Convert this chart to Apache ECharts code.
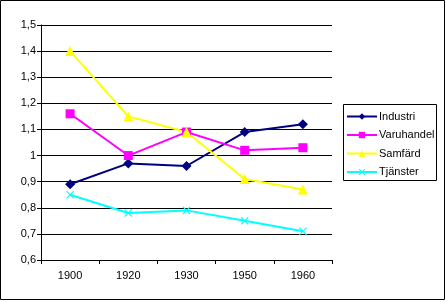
<!DOCTYPE html>
<html><head><meta charset="utf-8">
<script src="https://cdn.jsdelivr.net/npm/echarts@6/dist/echarts.min.js"></script>
<style>html,body{margin:0;padding:0;background:#fff}#c{width:446px;height:302px}</style>
</head><body><div id="c"></div>
<script>
const categories = ['1900','1920','1930','1950','1960'];
const industri = [0.89, 0.97, 0.96, 1.09, 1.12];
const varuhandel = [1.16, 1.00, 1.09, 1.02, 1.03];
const samfard = [1.40, 1.15, 1.09, 0.91, 0.87];
const tjanster = [0.85, 0.78, 0.79, 0.75, 0.71];
const seriesNames = ['Industri','Varuhandel','Samfärd','Tjänster'];

const chart = echarts.init(document.getElementById('c'), null, {renderer:'canvas'});
const font = {fontFamily:'Liberation Sans, Arial, sans-serif', fontSize:11, color:'#000'};
const crossPath = 'path://M0,1L1,0L5,4L9,0L10,1L6,5L10,9L9,10L5,6L1,10L0,9L4,5Z';
function mk(name, data, color, symbol, size){
  return {name, type:'line', data, symbol, symbolSize:size, showAllSymbol:true,
    lineStyle:{color, width:2}, itemStyle:{color}, animation:false, z:3};
}
chart.setOption({
  animation:false,
  textStyle:font,
  grid:{left:41, right:114, top:25, bottom:42, containLabel:false},
  xAxis:{type:'category', data:categories, boundaryGap:true,
    axisLine:{lineStyle:{color:'#000', width:1}},
    axisTick:{show:true, length:4, lineStyle:{color:'#000'}},
    axisLabel:Object.assign({margin:10}, font),
    splitLine:{show:false}},
  yAxis:{type:'value', min:0.6, max:1.5, interval:0.1,
    axisLine:{show:true, lineStyle:{color:'#000', width:1}},
    axisTick:{show:true, length:4, lineStyle:{color:'#000'}},
    axisLabel:Object.assign({margin:5, formatter:v=>String(+v.toFixed(1)).replace('.',',')}, font),
    splitLine:{show:true, lineStyle:{color:'#000', width:1}}},
  legend:{orient:'vertical', left:344, top:109, itemWidth:30, itemHeight:8, itemGap:7.5,
    padding:[2,2,2,2], textStyle:Object.assign({padding:[0,0,0,-3]}, font),
    data:seriesNames},
  graphic:[
    {type:'rect', shape:{x:0.5,y:0.5,width:444,height:299}, style:{fill:null, stroke:'#000', lineWidth:1}, silent:true},
    {type:'rect', shape:{x:343.5,y:104.5,width:93,height:76}, style:{fill:null, stroke:'#000', lineWidth:1}, silent:true}
  ],
  series:[
    mk(seriesNames[0], industri, '#000080', 'diamond', 10),
    mk(seriesNames[1], varuhandel, '#FF00FF', 'rect', 9),
    mk(seriesNames[2], samfard, '#FFFF00', 'triangle', 10),
    mk(seriesNames[3], tjanster, '#00FFFF', crossPath, 8)
  ]
});
</script></body></html>
